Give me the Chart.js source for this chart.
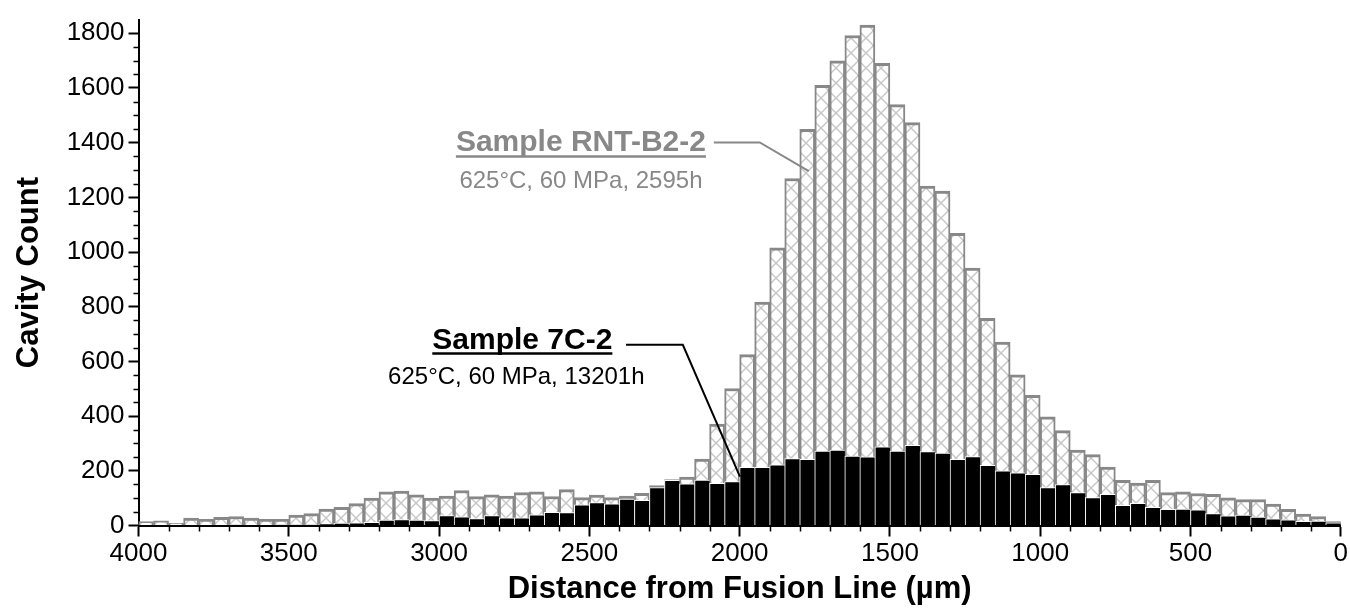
<!DOCTYPE html>
<html>
<head>
<meta charset="utf-8">
<title>Cavity count vs distance from fusion line</title>
<script src="https://cdn.jsdelivr.net/npm/chart.js@4.4.1/dist/chart.umd.min.js"></script>
<style>
  html, body { margin: 0; padding: 0; background: #fff; }
  #wrap { width: 1350px; height: 609px; }
</style>
</head>
<body>
<div id="wrap"><canvas id="chart" width="1350" height="609"></canvas></div>
<script>
// bin centres (µm), 50 µm bins from 4000 down to 0
const binCentres = [
  3975, 3925, 3875, 3825, 3775, 3725, 3675, 3625, 3575, 3525,
  3475, 3425, 3375, 3325, 3275, 3225, 3175, 3125, 3075, 3025,
  2975, 2925, 2875, 2825, 2775, 2725, 2675, 2625, 2575, 2525,
  2475, 2425, 2375, 2325, 2275, 2225, 2175, 2125, 2075, 2025,
  1975, 1925, 1875, 1825, 1775, 1725, 1675, 1625, 1575, 1525,
  1475, 1425, 1375, 1325, 1275, 1225, 1175, 1125, 1075, 1025,
  975, 925, 875, 825, 775, 725, 675, 625, 575, 525,
  475, 425, 375, 325, 275, 225, 175, 125, 75, 25
];

// Sample RNT-B2-2 (grey, hatched)
const countRNT = [
  14, 17, 8, 27, 23, 30, 33, 27, 23, 23,
  38, 44, 60, 66, 80, 100, 123, 126, 112, 100,
  108, 128, 106, 112, 108, 120, 123, 106, 131, 102,
  111, 102, 108, 118, 146, 168, 177, 243, 371, 501,
  625, 817, 1015, 1269, 1449, 1610, 1699, 1792, 1830, 1690,
  1539, 1473, 1241, 1223, 1068, 941, 758, 671, 551, 476,
  397, 347, 276, 259, 214, 165, 155, 165, 120, 123,
  117, 114, 101, 95, 95, 78, 59, 42, 33, 14
];

// Sample 7C-2 (black)
const count7C = [
  0, 0, 0, 1, 1, 1, 2, 1, 1, 2,
  2, 2, 5, 8, 10, 12, 20, 22, 20, 18,
  36, 32, 25, 36, 28, 28, 39, 48, 47, 76,
  84, 79, 97, 92, 139, 165, 152, 166, 154, 161,
  213, 213, 222, 245, 242, 272, 276, 254, 251, 288,
  272, 293, 270, 265, 242, 252, 220, 200, 193, 187,
  139, 150, 120, 102, 114, 74, 81, 66, 59, 60,
  57, 44, 35, 38, 31, 24, 21, 15, 16, 10
];

const xTicks = [4000, 3500, 3000, 2500, 2000, 1500, 1000, 500, 0];
const yTicks = [0, 200, 400, 600, 800, 1000, 1200, 1400, 1600, 1800];

const FONT = "'Liberation Sans', Arial, Helvetica, sans-serif";
const GREY = '#888';

// cross hatch fill for the grey bars
const tile = document.createElement('canvas');
tile.width = 15; tile.height = 15;
const tg = tile.getContext('2d');
tg.fillStyle = '#fff';
tg.fillRect(0, 0, 15, 15);
tg.strokeStyle = '#8f8f8f';
tg.lineWidth = 1;
tg.beginPath();
tg.moveTo(0, 0); tg.lineTo(15, 15);
tg.moveTo(15, 0); tg.lineTo(0, 15);
tg.stroke();
const hatch = tg.createPattern(tile, 'repeat');

// callouts, anchored in data units
const notes = [
  { title: 'Sample RNT-B2-2', sub: '625\u00B0C, 60 MPa, 2595h', color: GREY,
    at: [2528, 1368], subAt: [2528, 1234],
    line: [[2086, 1401], [1933, 1401], [1770, 1296]] },
  { title: 'Sample 7C-2', sub: '625\u00B0C, 60 MPa, 13201h', color: '#000',
    at: [2723, 647], subAt: [2743, 516],
    line: [[2378, 661], [2189, 661], [1999, 179]] }
];

const extras = {
  id: 'extras',
  beforeDatasetsDraw(chart) {
    const { x, y } = chart.scales;
    hatch.setTransform(new DOMMatrix([1, 0, 0, 1, x.left, y.bottom]));
  },
  afterDraw(chart) {
    const { ctx, scales: { x, y } } = chart;
    ctx.save();
    // minor ticks
    ctx.strokeStyle = '#000';
    ctx.lineWidth = 1.5;
    ctx.beginPath();
    for (let v = 100; v < 4000; v += 100) {
      if (v % 500 === 0) continue;
      const px = Math.round(x.getPixelForValue(v)) + 0.5;
      ctx.moveTo(px, y.bottom);
      ctx.lineTo(px, y.bottom + 6);
    }
    for (let v = 50; v < 1850; v += 50) {
      if (v % 200 === 0) continue;
      const py = Math.round(y.getPixelForValue(v)) + 0.5;
      ctx.moveTo(x.left - 5, py);
      ctx.lineTo(x.left, py);
    }
    ctx.stroke();

    // callouts
    notes.forEach(n => {
      ctx.fillStyle = n.color;
      ctx.strokeStyle = n.color;
      ctx.textAlign = 'center';
      ctx.textBaseline = 'alphabetic';
      ctx.font = 'bold 30px ' + FONT;
      const tx = x.getPixelForValue(n.at[0]);
      const ty = y.getPixelForValue(n.at[1]);
      ctx.fillText(n.title, tx, ty);
      const w = ctx.measureText(n.title).width;
      ctx.lineWidth = 2.5;
      ctx.beginPath();
      ctx.moveTo(tx - w / 2, ty + 5);
      ctx.lineTo(tx + w / 2, ty + 5);
      ctx.stroke();

      ctx.font = '24px ' + FONT;
      ctx.fillText(n.sub, x.getPixelForValue(n.subAt[0]), y.getPixelForValue(n.subAt[1]));

      ctx.lineWidth = 2;
      ctx.beginPath();
      n.line.forEach((p, i) => {
        const px = x.getPixelForValue(p[0]);
        const py = y.getPixelForValue(p[1]);
        if (i === 0) ctx.moveTo(px, py); else ctx.lineTo(px, py);
      });
      ctx.stroke();
    });
    ctx.restore();
  }
};

new Chart(document.getElementById('chart').getContext('2d'), {
  type: 'bar',
  data: {
    datasets: [
      {
        label: 'Sample 7C-2',
        data: binCentres.map((b, i) => ({ x: b, y: count7C[i] })),
        backgroundColor: '#000',
        borderColor: '#fff',
        borderWidth: { top: 1, left: 1, right: 0, bottom: 0 },
        grouped: false,
        order: 0
      },
      {
        label: 'Sample RNT-B2-2',
        data: binCentres.map((b, i) => ({ x: b, y: countRNT[i] })),
        backgroundColor: hatch,
        borderColor: GREY,
        borderWidth: { top: 3, left: 2, right: 2, bottom: 0 },
        grouped: false,
        order: 1
      }
    ]
  },
  options: {
    responsive: false,
    animation: false,
    layout: { padding: { top: 15, right: 9, left: 0, bottom: 0 } },
    datasets: { bar: { categoryPercentage: 1, barPercentage: 1 } },
    plugins: { legend: { display: false }, tooltip: { enabled: false } },
    scales: {
      x: {
        type: 'linear',
        min: 0,
        max: 4000,
        reverse: true,
        offset: false,
        grid: { drawOnChartArea: false, offset: false, tickLength: 11, tickWidth: 2, tickColor: '#000' },
        border: { color: '#000', width: 2 },
        ticks: {
          stepSize: 500, autoSkip: false, maxRotation: 0, padding: 2, color: '#000',
          font: { family: FONT, size: 26 },
          callback: v => xTicks.includes(v) ? String(v) : ''
        },
        title: {
          display: true, text: 'Distance from Fusion Line (\u00B5m)', color: '#000',
          font: { family: FONT, size: 31, weight: 'bold' }, padding: { top: 0, bottom: 1 }
        },
        afterFit: s => { s.height = 83.5; }
      },
      y: {
        min: 0,
        max: 1850,
        grid: {
          drawOnChartArea: false, tickLength: 10, tickWidth: 2,
          tickColor: c => yTicks.includes(c.tick.value) ? '#000' : 'rgba(0,0,0,0)'
        },
        border: { color: '#000', width: 2 },
        ticks: {
          stepSize: 50, autoSkip: false, padding: 4, color: '#000',
          font: { family: FONT, size: 26 },
          callback: v => yTicks.includes(v) ? String(v) : ''
        },
        title: {
          display: true, text: 'Cavity Count', color: '#000',
          font: { family: FONT, size: 31, weight: 'bold' }, padding: { top: 11, bottom: 0 }
        },
        afterFit: s => { s.width = 138.5; }
      }
    }
  },
  plugins: [extras]
});
</script>
</body>
</html>
